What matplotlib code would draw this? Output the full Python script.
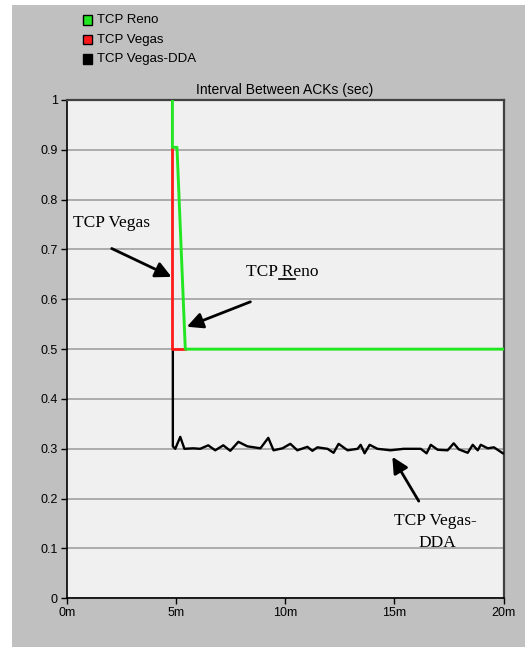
import matplotlib
matplotlib.use("Agg")
import matplotlib.pyplot as plt
from matplotlib.patches import Rectangle
from matplotlib.lines import Line2D

# ---------------- data ----------------
series_names = ["TCP Reno", "TCP Vegas", "TCP Vegas-DDA"]
series_colors = ["#22e622", "#ff1a1a", "#000000"]

reno_x = [4.84, 4.84, 5.05, 5.43, 19.97]
reno_y = [1.00, 0.905, 0.905, 0.50, 0.50]

vegas_x = [4.82, 4.82, 5.40]
vegas_y = [0.905, 0.50, 0.50]

dda_x = [4.86, 4.86, 4.97, 5.20, 5.39, 5.79, 6.11, 6.48, 6.80, 7.17, 7.49, 7.86,
         8.27, 8.87, 9.23, 9.47, 9.88, 10.24, 10.56, 11.02, 11.25, 11.48, 11.94,
         12.22, 12.45, 12.86, 13.32, 13.46, 13.64, 13.87, 14.23, 14.83, 15.43,
         16.21, 16.48, 16.67, 16.99, 17.44, 17.72, 17.95, 18.36, 18.59, 18.82,
         18.96, 19.28, 19.56, 19.97]
dda_y = [0.50, 0.305, 0.300, 0.324, 0.300, 0.301, 0.300, 0.307, 0.297, 0.307,
         0.296, 0.314, 0.305, 0.301, 0.322, 0.297, 0.301, 0.310, 0.297, 0.304,
         0.296, 0.303, 0.300, 0.292, 0.310, 0.297, 0.300, 0.308, 0.291, 0.308,
         0.300, 0.297, 0.300, 0.300, 0.291, 0.308, 0.298, 0.297, 0.311, 0.299,
         0.292, 0.308, 0.297, 0.308, 0.301, 0.303, 0.291]

x_ticks = [0, 5, 10, 15, 20]
x_tick_labels = ["0m", "5m", "10m", "15m", "20m"]
y_ticks = [0, 0.1, 0.2, 0.3, 0.4, 0.5, 0.6, 0.7, 0.8, 0.9, 1.0]
y_tick_labels = ["0", "0.1", "0.2", "0.3", "0.4", "0.5", "0.6", "0.7", "0.8", "0.9", "1"]
title = "Interval Between ACKs (sec)"

# ---------------- figure ----------------
W, H = 525, 647
fig = plt.figure(figsize=(W / 100, H / 100), dpi=100, facecolor="white")

def fx(px):
    return px / W

def fy(py):
    return 1 - py / H

fig.patches.append(Rectangle((fx(12), 0), 1 - fx(12), fy(5), transform=fig.transFigure,
                             facecolor="#c0c0c0", edgecolor="none", zorder=-10))

ax_left, ax_right, ax_top, ax_bot = 66.7, 503.5, 100, 598.3
ax = fig.add_axes([fx(ax_left), fy(ax_bot), fx(ax_right - ax_left), (ax_bot - ax_top) / H])
ax.set_zorder(5)
ax.set_facecolor("#f0f0f0")
ax.set_xlim(0, 20)
ax.set_ylim(0, 1)

sans = ["Liberation Sans", "DejaVu Sans"]
serif = ["Liberation Serif", "DejaVu Serif"]

ax.set_xticks(x_ticks)
ax.set_xticklabels(x_tick_labels, family=sans, fontsize=9)
ax.set_yticks(y_ticks)
ax.set_yticklabels(y_tick_labels, family=sans, fontsize=9)
ax.tick_params(axis="both", direction="out", length=4, width=1, color="black", pad=2.5)

ax.grid(axis="y", color="#a0a0a0", linewidth=1.2)
ax.set_axisbelow(True)

for s in ["left", "bottom"]:
    ax.spines[s].set_color("black")
    ax.spines[s].set_linewidth(1.2)
for s in ["top", "right"]:
    ax.spines[s].set_color("#404040")
    ax.spines[s].set_linewidth(1.6)

ax.plot(dda_x, dda_y, color=series_colors[2], linewidth=1.7, zorder=3, solid_joinstyle="round")
ax.plot(vegas_x, vegas_y, color=series_colors[1], linewidth=2.0, zorder=4)
ax.plot(reno_x, reno_y, color=series_colors[0], linewidth=2.1, zorder=5)

# title above plot
fig.text(fx(285), fy(90), title, ha="center", va="center", family=sans, fontsize=10)

# legend (manual, top-left)
for i, (name, color) in enumerate(zip(series_names, series_colors)):
    cy = 20 + i * 19.5
    fig.patches.append(Rectangle((fx(83), fy(cy + 4.5)), 9 / W, 9 / H, transform=fig.transFigure,
                                 facecolor=color, edgecolor="black", linewidth=1.0, zorder=2))
    fig.text(fx(97), fy(cy), name, ha="left", va="center", family=sans, fontsize=9.5)

# annotations
arrow = dict(arrowstyle="-|>", color="black", lw=2, mutation_scale=24, shrinkA=0, shrinkB=0)
ax.text(0.29, 0.745, "TCP Vegas", family=serif, fontsize=12.5, ha="left", va="baseline")
ax.annotate("", xy=(4.80, 0.645), xytext=(2.06, 0.702), arrowprops=arrow)

ax.text(8.22, 0.647, "TCP Reno", family=serif, fontsize=12.5, ha="left", va="baseline")
fig.add_artist(Line2D([fx(279), fx(295)], [fy(279), fy(279)], transform=fig.transFigure,
                      color="black", linewidth=1.2, zorder=10))
ax.annotate("", xy=(5.50, 0.545), xytext=(8.41, 0.595), arrowprops=arrow)

ax.text(16.86, 0.147, "TCP Vegas-", family=serif, fontsize=12.5, ha="center", va="baseline")
ax.text(16.99, 0.103, "DDA", family=serif, fontsize=12.5, ha="center", va="baseline")
ax.annotate("", xy=(14.91, 0.284), xytext=(16.12, 0.195), arrowprops=arrow)

fig.savefig("out.png", dpi=100, facecolor="white")
